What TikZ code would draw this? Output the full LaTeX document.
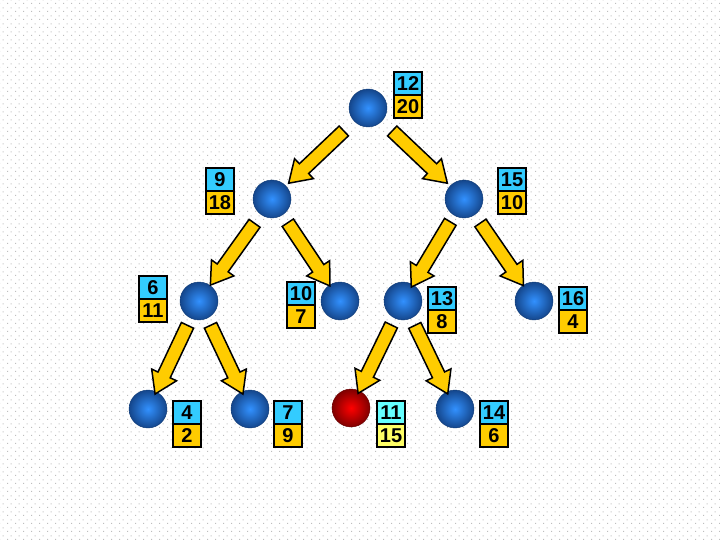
\documentclass[tikz,border=0pt]{standalone}
\usepackage{fontspec}
\setmainfont{Liberation Sans}
\usepackage{xcolor}
\usepackage{tikz}
\usetikzlibrary{arrows.meta,positioning,calc,shapes.arrows,patterns}

\definecolor{keyblue}{RGB}{51,204,255}
\definecolor{prioyel}{RGB}{255,204,0}
\definecolor{keylight}{RGB}{102,255,255}
\definecolor{priolight}{RGB}{255,255,102}
\definecolor{balltop}{RGB}{50,145,255}
\definecolor{ballrim}{RGB}{20,70,140}
\definecolor{dotgray}{RGB}{190,190,190}

\pgfdeclarepatternformonly{bgdots}{\pgfpointorigin}{\pgfpoint{8pt}{8pt}}{\pgfpoint{8pt}{8pt}}{%
  \pgfpathrectangle{\pgfpoint{0pt}{0pt}}{\pgfpoint{1.2pt}{1.2pt}}%
  \pgfpathrectangle{\pgfpoint{4pt}{4pt}}{\pgfpoint{1.2pt}{1.2pt}}%
  \pgfusepath{fill}}

\begin{document}
\begin{tikzpicture}[
  x=1pt, y=-1pt,
  ball/.style={
    circle, minimum size=38pt, inner sep=0pt,
    shading=radial, inner color=balltop, outer color=ballrim,
    draw=ballrim!85!black, line width=0.4pt
  },
  hot/.style={ball, inner color=red, outer color=red!50!black,
    draw=red!40!black},
  cell/.style={
    draw, line width=1.4pt, rectangle,
    minimum width=28pt, minimum height=23pt,
    inner sep=0pt, outer sep=0pt,
    font=\bfseries\fontsize{20}{20}\selectfont
  },
  keyc/.style={cell, fill=keyblue},
  prioc/.style={cell, fill=prioyel},
  fatarr/.style={
    single arrow, draw=black, fill=prioyel, line width=1.5pt,
    minimum height=76pt, inner xsep=0pt, inner ysep=6pt,
    single arrow head extend=7pt, single arrow tip angle=66
  },
  lnk/.style={to path={
    let \p1=(\tikztostart), \p2=(\tikztotarget),
        \n1={atan2(\y2-\y1,\x2-\x1)} in
    node[fatarr, rotate=\n1] at ($(\tikztostart)!0.5!(\tikztotarget)$) {}
  }},
]
\useasboundingbox (0,0) rectangle (720,540);
\fill[pattern=bgdots, pattern color=dotgray] (0,0) rectangle (720,540);

%% tree nodes
\node[ball] (n12) at (368,108) {};
\node[ball] (n9)  at (272,199) {};
\node[ball] (n15) at (464,199) {};
\node[ball] (n6)  at (199,301) {};
\node[ball] (n10) at (340,301) {};
\node[ball] (n13) at (403,301) {};
\node[ball] (n16) at (534,301) {};
\node[ball] (n4)  at (148,409) {};
\node[ball] (n7)  at (250,409) {};
\node[hot]  (n11) at (351,408) {};
\node[ball] (n14) at (455,409) {};

%% key / priority labels
\node[keyc, anchor=north west] (k12) at (394,72) {12};
\node[prioc, below=0pt of k12] (p12) {20};
\node[keyc, anchor=north west] (k9) at (206,168) {9};
\node[prioc, below=0pt of k9] (p9) {18};
\node[keyc, anchor=north west] (k15) at (498,168) {15};
\node[prioc, below=0pt of k15] (p15) {10};
\node[keyc, anchor=north west] (k6) at (139,276) {6};
\node[prioc, below=0pt of k6] (p6) {11};
\node[keyc, anchor=north west] (k10) at (287,282) {10};
\node[prioc, below=0pt of k10] (p10) {7};
\node[keyc, anchor=north west] (k13) at (428,287) {13};
\node[prioc, below=0pt of k13] (p13) {8};
\node[keyc, anchor=north west] (k16) at (559,287) {16};
\node[prioc, below=0pt of k16] (p16) {4};
\node[keyc, anchor=north west] (k4) at (173,401) {4};
\node[prioc, below=0pt of k4] (p4) {2};
\node[keyc, anchor=north west] (k7) at (274,401) {7};
\node[prioc, below=0pt of k7] (p7) {9};
\node[keyc, fill=keylight, anchor=north west] (k11) at (377,401) {11};
\node[prioc, fill=priolight, below=0pt of k11] (p11) {15};
\node[keyc, anchor=north west] (k14) at (480,401) {14};
\node[prioc, below=0pt of k14] (p14) {6};

%% child links
\path[lnk] (n12) to (n9);
\path[lnk] (n12) to (n15);
\path[lnk] (n9)  to (n6);
\path[lnk] (n9)  to (n10);
\path[lnk] (n15) to (n13);
\path[lnk] (n15) to (n16);
\path[lnk] (n6)  to (n4);
\path[lnk] (n6)  to (n7);
\path[lnk] (n13) to (n11);
\path[lnk] (n13) to (n14);
\end{tikzpicture}
\end{document}
